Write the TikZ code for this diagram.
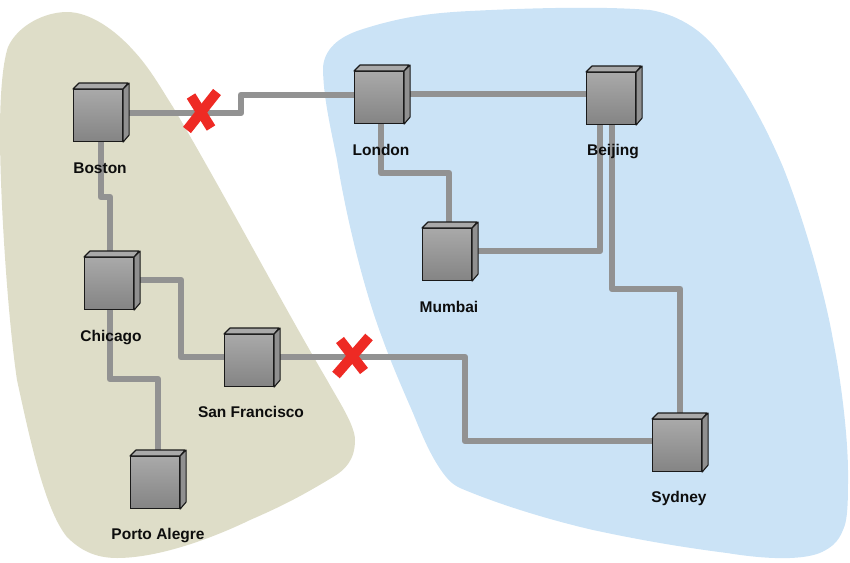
\documentclass[tikz,border=0pt]{standalone}
\usepackage{fontspec}
\setmainfont{Liberation Sans}
\pgfdeclarelayer{blobs}
\pgfdeclarelayer{links}
\pgfsetlayers{blobs,links,main}
\definecolor{olivezone}{HTML}{DEDDC8}
\definecolor{bluezone}{HTML}{CBE3F6}
\definecolor{linkgray}{HTML}{929292}
\definecolor{crossred}{HTML}{EE2A24}
\definecolor{boxtop}{HTML}{A9A9A9}
\definecolor{boxbottom}{HTML}{848484}
\definecolor{boxedge}{HTML}{1A1A1A}
\tikzset{
  x=1pt,y=-1pt,
  routerbox/.style={draw=boxedge,line width=1.1pt,minimum width=49pt,minimum height=52pt,inner sep=0pt,anchor=north west,top color=boxtop,bottom color=boxbottom},
  routerface/.style={draw=boxedge,line width=1.1pt,line join=round},
  routerlabel/.style={font=\fontsize{15.5}{18}\selectfont\bfseries,text=black!95,inner sep=0pt,anchor=base},
  link/.style={draw=linkgray,line width=6.6pt,line join=round},
  crossmark/.style={draw=crossred,line width=10pt},
}
\newcommand{\router}[6]{%
  \node[routerbox] (#1) at (#2,#3) {};
  \filldraw[routerface,fill=boxtop] (#1.north west) -- ++(6,-6) -- ++(49,0) -- (#1.north east) -- cycle;
  \filldraw[routerface,fill=boxtop!85!black] (#1.north east) -- ++(6,-6) -- ++(0,52) -- (#1.south east) -- cycle;
  \node[routerlabel] (#1label) at (#5,#6) {#4};
}
\begin{document}
\begin{tikzpicture}
\useasboundingbox (0,0) rectangle (850,562);
\begin{pgfonlayer}{blobs}
\fill[olivezone] (8,47) .. controls (18,25) and (45,12) .. (67,12)
  .. controls (90,12) and (115,30) .. (133,50)
  .. controls (150,68) and (162,90) .. (173,107)
  .. controls (225,195) and (280,300) .. (327,380)
  .. controls (338,400) and (355,425) .. (355,440)
  .. controls (355,460) and (345,470) .. (333,477)
  .. controls (300,497) and (280,507) .. (250,520)
  .. controls (215,537) and (160,558) .. (117,558)
  .. controls (95,558) and (80,550) .. (67,537)
  .. controls (45,510) and (30,440) .. (17,380)
  .. controls (8,320) and (0,200) .. (0,133)
  .. controls (0,100) and (2,65) .. (8,47) -- cycle;
\fill[bluezone] (323,67) .. controls (325,45) and (345,35) .. (360,30)
  .. controls (400,17) and (430,13) .. (470,11)
  .. controls (530,8) and (600,6) .. (650,10)
  .. controls (675,14) and (700,28) .. (717,50)
  .. controls (745,88) and (765,125) .. (783,167)
  .. controls (810,235) and (828,310) .. (833,340)
  .. controls (842,385) and (848,440) .. (848,473)
  .. controls (848,500) and (848,520) .. (843,530)
  .. controls (838,543) and (830,548) .. (822,552)
  .. controls (805,560) and (770,560) .. (727,553)
  .. controls (680,547) and (640,540) .. (593,530)
  .. controls (550,520) and (500,505) .. (460,488)
  .. controls (450,483) and (447,478) .. (443,473)
  .. controls (430,455) and (422,435) .. (413,413)
  .. controls (403,390) and (392,365) .. (383,340)
  .. controls (362,285) and (345,210) .. (337,160)
  .. controls (330,125) and (323,95) .. (323,67) -- cycle;
\end{pgfonlayer}

\router{boston}{73}{89}{Boston}{100}{173}
\router{london}{354}{71}{London}{381}{155}
\router{beijing}{586}{72}{Beijing}{613}{155}
\router{mumbai}{422}{228}{Mumbai}{449}{312}
\router{chicago}{84}{257}{Chicago}{111}{341}
\router{sanfran}{224}{334}{San Francisco}{251}{417}
\router{porto}{130}{456}{Porto Alegre}{158}{539}
\router{sydney}{652}{419}{Sydney}{679}{502}

\coordinate (a1) at (241,113); \coordinate (a2) at (241,95);
\coordinate (b1) at (101,197); \coordinate (b2) at (110,197);
\coordinate (c1) at (381,173); \coordinate (c2) at (449,173);
\coordinate (d1) at (600,251);
\coordinate (e1) at (612,289); \coordinate (e2) at (680,289);
\coordinate (f1) at (181,280); \coordinate (f2) at (181,357);
\coordinate (g1) at (110,379); \coordinate (g2) at (158,379);
\coordinate (h1) at (465,357); \coordinate (h2) at (465,441);
\coordinate (i1) at (500,94);

\begin{pgfonlayer}{links}
\draw[link] (boston.east |- a1) -- (a1) -- (a2) -- (london.west |- a2);
\draw[link] (boston.south -| b1) -- (b1) -- (b2) -- (chicago.north -| b2);
\draw[link] (london.east |- i1) -- (beijing.west |- i1);
\draw[link] (london.south -| c1) -- (c1) -- (c2) -- (mumbai.north -| c2);
\draw[link] (mumbai.east |- d1) -- (d1) -- (beijing.south -| d1);
\draw[link] (beijing.south -| e1) -- (e1) -- (e2) -- (sydney.north -| e2);
\draw[link] (chicago.east |- f1) -- (f1) -- (f2) -- (sanfran.west |- f2);
\draw[link] (chicago.south -| g1) -- (g1) -- (g2) -- (porto.north -| g2);
\draw[link] (sanfran.east |- f2) -- (h1) -- (h2) -- (sydney.west |- h2);
\end{pgfonlayer}

\draw[crossmark] (191,96) -- (211,128);
\draw[crossmark] (217,92) -- (187,130);
\draw[crossmark] (340,340) -- (364,371);
\draw[crossmark] (369,337) -- (336,375);
\end{tikzpicture}
\end{document}
